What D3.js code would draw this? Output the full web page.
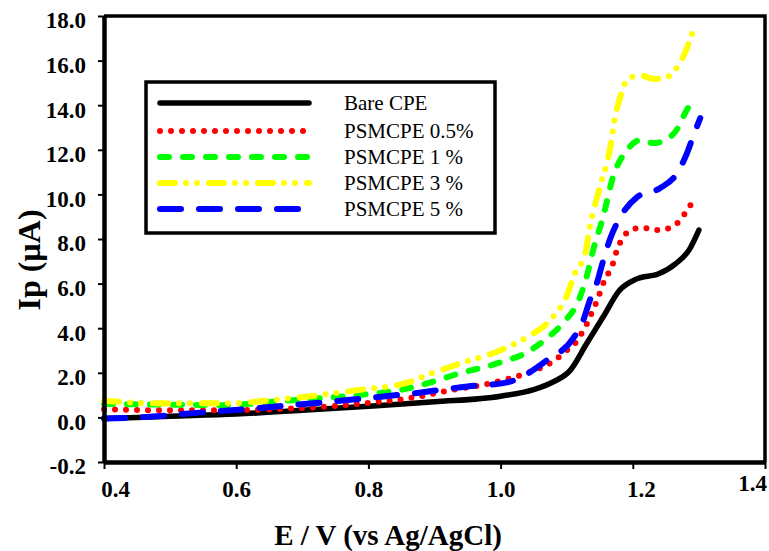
<!DOCTYPE html>
<html>
<head>
<meta charset="utf-8">
<script src="https://cdn.jsdelivr.net/npm/d3@7"></script>
</head>
<body style="margin:0; background:#fff">
<svg width="769" height="551"></svg>
<script>
// Data
var bareE = [0.40, 0.50, 0.60, 0.70, 0.80, 0.90, 1.00, 1.05, 1.08, 1.105, 1.13, 1.155, 1.18, 1.205, 1.24, 1.265, 1.285, 1.30];
var bareI = [-0.05, 0.05, 0.15, 0.32, 0.50, 0.70, 0.95, 1.25, 1.6, 2.1, 3.3, 4.5, 5.7, 6.2, 6.45, 6.9, 7.5, 8.4];

var p05E = [0.40, 0.50, 0.60, 0.70, 0.80, 0.88, 0.92, 0.98, 1.02, 1.05, 1.07, 1.10, 1.116, 1.125, 1.134, 1.14, 1.147, 1.153, 1.162, 1.17, 1.176, 1.185, 1.20, 1.215, 1.234, 1.25, 1.267, 1.279, 1.29];
var p05I = [0.36, 0.32, 0.33, 0.42, 0.65, 0.95, 1.2, 1.5, 1.8, 2.1, 2.35, 3.0, 3.45, 3.9, 4.4, 4.85, 5.3, 5.85, 6.4, 6.9, 7.5, 8.05, 8.45, 8.5, 8.4, 8.45, 8.7, 9.15, 9.65];

var p1E = [0.40, 0.48, 0.58, 0.68, 0.78, 0.86, 0.904, 0.928, 1.00, 1.04, 1.07, 1.094, 1.12, 1.131, 1.14, 1.155, 1.17, 1.191, 1.211, 1.231, 1.254, 1.269, 1.279, 1.288];
var p1I = [0.6, 0.58, 0.55, 0.76, 0.99, 1.30, 1.66, 1.89, 2.47, 2.92, 3.55, 4.22, 5.39, 6.4, 7.5, 8.98, 10.77, 11.98, 12.43, 12.30, 12.52, 13.02, 13.64, 14.09];

var p3E = [0.40, 0.48, 0.58, 0.68, 0.78, 0.86, 0.889, 0.939, 0.999, 1.04, 1.079, 1.10, 1.113, 1.128, 1.135, 1.15, 1.166, 1.173, 1.181, 1.191, 1.211, 1.231, 1.252, 1.267, 1.276, 1.293];
var p3I = [0.75, 0.63, 0.63, 0.85, 1.21, 1.57, 1.9, 2.42, 3.0, 3.6, 4.49, 5.45, 6.5, 7.36, 8.53, 10.32, 12.12, 13.46, 14.36, 15.13, 15.35, 15.17, 15.26, 15.7, 16.16, 17.5];

var p5E = [0.40, 0.48, 0.53, 0.61, 0.66, 0.73, 0.81, 0.88, 0.95, 1.01, 1.04, 1.07, 1.11, 1.125, 1.135, 1.146, 1.153, 1.166, 1.181, 1.206, 1.241, 1.267, 1.282, 1.291, 1.302];
var p5I = [-0.05, 0.05, 0.18, 0.36, 0.49, 0.67, 0.9, 1.12, 1.39, 1.57, 1.95, 2.56, 3.55, 4.35, 5.25, 6.06, 6.8, 8.03, 8.98, 9.87, 10.28, 10.95, 11.85, 12.57, 13.42];

var seriesNames = ["Bare CPE", "PSMCPE 0.5%", "PSMCPE 1 %", "PSMCPE 3 %", "PSMCPE 5 %"];

var xTicks = [0.4, 0.6, 0.8, 1.0, 1.2, 1.4];
var xTickLabels = ["0.4", "0.6", "0.8", "1.0", "1.2", "1.4"];
var yTicks = [-2, 0, 2, 4, 6, 8, 10, 12, 14, 16, 18];
var yTickLabels = ["-0.2", "0.0", "2.0", "4.0", "6.0", "8.0", "10.0", "12.0", "14.0", "16.0", "18.0"];

// line styles per series (same order as seriesNames)
var styles = [
    { color: "#000000", dash: null, width: 5.5 },
    { color: "#ff0000", dash: "0,11", width: 6 },
    { color: "#00ff00", dash: "9,14", width: 6 },
    { color: "#ffff00", dash: "15,11,0,11,0,12", width: 6 },
    { color: "#0000ff", dash: "21,18", width: 6 }
];

var svg = d3.select("svg");
var serifFont = "'Liberation Serif', Tinos";

var x = d3.scaleLinear().domain([0.4, 1.4]).range([104, 765]);
var y = d3.scaleLinear().domain([-2, 18]).range([462, 16]);

var series = [
    d3.zip(bareE, bareI),
    d3.zip(p05E, p05I),
    d3.zip(p1E, p1I),
    d3.zip(p3E, p3I),
    d3.zip(p5E, p5I)
];

// frame (top and right border)
svg.append("path")
    .attr("d", "M" + x(0.4) + "," + y(18) + "H" + x(1.4) + "V" + y(-2))
    .attr("fill", "none")
    .attr("stroke", "#000")
    .attr("stroke-width", 3.5);

// curves
var line = d3.line()
    .x(d => x(d[0]))
    .y(d => y(d[1]))
    .curve(d3.curveMonotoneX);

svg.append("g").selectAll("path")
    .data(series)
    .join("path")
    .attr("d", line)
    .attr("fill", "none")
    .attr("stroke", (d, i) => styles[i].color)
    .attr("stroke-width", (d, i) => styles[i].width)
    .attr("stroke-dasharray", (d, i) => styles[i].dash)
    .attr("stroke-linecap", "round")
    .attr("stroke-linejoin", "round");

// axes
var labelShift = { "0.4": 11, "1.2": 8, "1.4": -13 };

var xAxis = d3.axisBottom(x)
    .tickValues(xTicks)
    .tickFormat((d, i) => xTickLabels[i])
    .tickSizeInner(7)
    .tickSizeOuter(0)
    .tickPadding(14);

var gx = svg.append("g")
    .attr("transform", "translate(0," + y(-2) + ")")
    .call(xAxis);
gx.select(".domain").attr("stroke-width", 4.5);
gx.selectAll(".tick line").attr("stroke-width", 2);
gx.selectAll(".tick text")
    .attr("dx", (d, i) => labelShift[xTickLabels[i]] || 0)
    .attr("dy", (d, i) => xTickLabels[i] == "1.4" ? "0.35em" : "0.6em");

var yAxis = d3.axisLeft(y)
    .tickValues(yTicks)
    .tickFormat((d, i) => yTickLabels[i])
    .tickSizeInner(6)
    .tickSizeOuter(0)
    .tickPadding(12);

var gy = svg.append("g")
    .attr("transform", "translate(" + x(0.4) + ",0)")
    .call(yAxis);
gy.select(".domain").attr("stroke-width", 4.5);
gy.selectAll(".tick line").attr("stroke-width", 2);
gy.selectAll(".tick text").attr("dy", "0.52em");

svg.selectAll(".tick text")
    .style("font-family", serifFont)
    .style("font-weight", "bold")
    .style("font-size", "23px");

// axis titles
svg.append("text")
    .attr("x", 388)
    .attr("y", 545)
    .attr("text-anchor", "middle")
    .style("font-family", serifFont)
    .style("font-weight", "bold")
    .style("font-size", "29px")
    .text("E / V (vs Ag/AgCl)");

svg.append("text")
    .attr("transform", "translate(40,260) rotate(-90)")
    .attr("text-anchor", "middle")
    .style("font-family", serifFont)
    .style("font-weight", "bold")
    .style("font-size", "32px")
    .text("Ip (\u00b5A)");

// legend
var legend = svg.append("g");
legend.append("rect")
    .attr("x", 146)
    .attr("y", 82)
    .attr("width", 349)
    .attr("height", 151)
    .attr("fill", "#fff")
    .attr("stroke", "#000")
    .attr("stroke-width", 3.5);

var rows = legend.selectAll(".row")
    .data(seriesNames)
    .join("g")
    .attr("class", "row")
    .attr("transform", (d, i) => "translate(0," + [103, 131, 157, 183, 209][i] + ")");

rows.append("line")
    .attr("x1", 160)
    .attr("x2", 309)
    .attr("stroke", (d, i) => styles[i].color)
    .attr("stroke-width", (d, i) => styles[i].width)
    .attr("stroke-dasharray", (d, i) => styles[i].dash)
    .attr("stroke-linecap", "round");

rows.append("text")
    .attr("x", 344)
    .attr("dy", "0.35em")
    .style("font-family", serifFont)
    .style("font-size", "21px")
    .text(d => d);
</script>
</body>
</html>
